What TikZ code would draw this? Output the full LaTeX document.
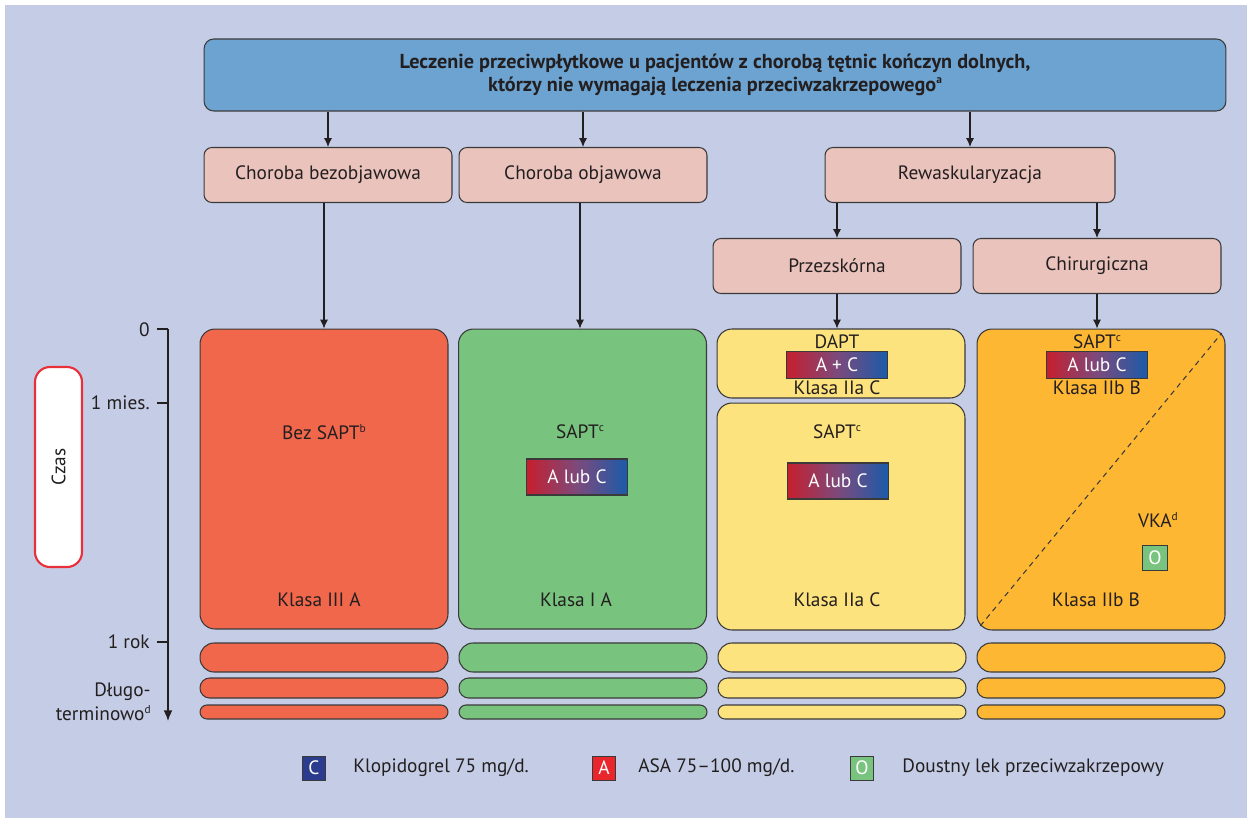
\documentclass[tikz,border=0pt]{standalone}
\usepackage{fontspec}
\setmainfont{PT Sans}
\usetikzlibrary{arrows.meta,calc}

\definecolor{bgpanel}{HTML}{C5CDE6}
\definecolor{titlefill}{HTML}{6CA3D1}
\definecolor{stepfill}{HTML}{EAC3BC}
\definecolor{redcol}{HTML}{F0674B}
\definecolor{greencol}{HTML}{78C47E}
\definecolor{yellowcol}{HTML}{FDE37D}
\definecolor{orangecol}{HTML}{FDB733}
\definecolor{boxline}{HTML}{3A3A3A}
\definecolor{txt}{HTML}{231F20}
\definecolor{gradred}{HTML}{C61F2E}
\definecolor{gradmid}{HTML}{7C4A7C}
\definecolor{gradblue}{HTML}{1B5BAA}
\definecolor{clopi}{HTML}{2B3C8E}
\definecolor{asacol}{HTML}{E8262C}
\definecolor{czasline}{HTML}{E8303A}

\newcommand{\supmark}[1]{\raisebox{0.75ex}{\fontsize{6.5}{7}\selectfont #1}}

\tikzset{
  txtfont/.style={font=\fontsize{11}{13.5}\selectfont, text=txt},
  stepbox/.style={draw=boxline, line width=0.6pt, fill=stepfill, rounded corners=4.5pt,
    minimum width=4.96cm, minimum height=1.1cm, inner sep=0pt, txtfont},
  mainbox/.style={draw=boxline, line width=0.6pt, rounded corners=8.5pt,
    minimum width=4.96cm, inner sep=0pt},
  barbox/.style={draw=boxline, line width=0.6pt, minimum width=4.96cm, inner sep=0pt},
  drugbox/.style={draw=boxline, line width=0.6pt, left color=gradred, right color=gradblue,
    middle color=gradmid, minimum width=2.02cm, inner sep=0pt,
    font=\fontsize{11}{13.5}\selectfont, text=white},
  legbox/.style={draw=boxline, line width=0.4pt, minimum width=0.46cm, minimum height=0.48cm,
    inner sep=0pt, font=\fontsize{11}{13.5}\selectfont, text=white},
  lbl/.style={inner sep=0pt, txtfont},
  arr/.style={-{Latex[length=5pt,width=4.5pt]}, line width=0.6pt, draw=txt},
}

\begin{document}
\begin{tikzpicture}[x=0.02cm, y=-0.02cm]
  \useasboundingbox (0,0) rectangle (1247,818);
  \fill[white] (0,0) rectangle (1247,818);
  \fill[bgpanel] (5,5) rectangle (1247,818);

  %% title
  \node[draw=boxline, line width=0.6pt, fill=titlefill, rounded corners=5.5pt,
    minimum width=20.44cm, minimum height=1.44cm, align=center,
    font=\bfseries\fontsize{11.5}{13}\selectfont, text=txt] (title) at (715,75)
    {Leczenie przeciwpłytkowe u pacjentów z chorobą tętnic kończyn dolnych,\\
     którzy nie wymagają leczenia przeciwzakrzepowego\supmark{a}};

  %% first and second level
  \node[stepbox] (asym) at (328,175) {Choroba bezobjawowa};
  \node[stepbox] (sym) at (583,175) {Choroba objawowa};
  \node[stepbox, minimum width=5.8cm] (revasc) at (970,175) {Rewaskularyzacja};
  \node[stepbox] (perc) at (837,266) {Przezskórna};
  \node[stepbox] (surg) at (1097,266) {Chirurgiczna};

  %% treatment boxes
  \node[mainbox, fill=redcol, minimum height=6cm] (noSapt) at (324,479) {};
  \node[mainbox, fill=greencol, minimum height=6cm] (saptA) at (582.5,479) {};
  \node[mainbox, fill=yellowcol, minimum height=1.38cm] (dapt) at (841,363.5) {};
  \node[mainbox, fill=yellowcol, minimum height=4.54cm] (saptP) at (841,516.5) {};
  \node[mainbox, fill=orangecol, minimum height=6.02cm] (saptS) at (1101,479.5) {};

  %% arrows
  \draw[arr] (title.south -| asym.north) -- (asym.north);
  \draw[arr] (title.south -| sym.north) -- (sym.north);
  \draw[arr] (title.south -| revasc.north) -- (revasc.north);
  \draw[arr] (revasc.south -| perc.north) -- (perc.north);
  \draw[arr] (revasc.south -| surg.north) -- (surg.north);
  \draw[arr] (asym.south -| noSapt.north) -- (noSapt.north);
  \draw[arr] (sym.south -| 580,0) -- (saptA.north -| 580,0);
  \draw[arr] (perc.south) -- (perc.south |- dapt.north);
  \draw[arr] (surg.south) -- (surg.south |- saptS.north);

  %% red column
  \node[lbl] (noSaptTop) at (324,432) {Bez SAPT\supmark{b}};
  \node[lbl] (noSaptCls) at (319,600) {Klasa III A};

  %% green column
  \node[lbl] (saptATop) at (580,432) {SAPT\supmark{c}};
  \node[drugbox, minimum height=0.72cm] (saptADrug) at (577,477) {A lub C};
  \node[lbl] (saptACls) at (576,600) {Klasa I A};

  %% yellow column
  \node[lbl] (daptTop) at (837,342) {DAPT};
  \node[drugbox, minimum height=0.55cm] (daptDrug) at (837,365) {A + C};
  \node[lbl] (daptCls) at (837,388) {Klasa IIa C};
  \node[lbl] (saptPTop) at (837,432) {SAPT\supmark{c}};
  \node[drugbox, minimum height=0.72cm] (saptPDrug) at (838,481) {A lub C};
  \node[lbl] (saptPCls) at (837,600) {Klasa IIa C};

  %% orange column
  \draw[boxline, line width=0.6pt, dash pattern=on 3pt off 2.5pt]
    ($(saptS.south west)!0.015!(saptS.north east)$) -- ($(saptS.south west)!0.985!(saptS.north east)$);
  \node[lbl] (saptSTop) at (1097,342) {SAPT\supmark{c}};
  \node[drugbox, minimum height=0.55cm] (saptSDrug) at (1097,365) {A lub C};
  \node[lbl] (saptSCls) at (1097,388) {Klasa IIb B};
  \node[lbl] (vka) at (1158,520) {VKA\supmark{d}};
  \node[legbox, fill=greencol, minimum width=0.5cm, minimum height=0.5cm] (vkaDrug) at (1155,558) {O};
  \node[lbl] (saptSCls2) at (1096,600) {Klasa IIb B};

  %% later periods
  \foreach \cx/\col in {324/redcol, 583/greencol, 842/yellowcol, 1101/orangecol}{
    \node[barbox, fill=\col, minimum height=0.58cm, rounded corners=8pt] (barA\cx) at (\cx,657.5) {};
    \node[barbox, fill=\col, minimum height=0.4cm, rounded corners=5.5pt] (barB\cx) at (\cx,688) {};
    \node[barbox, fill=\col, minimum height=0.28cm, rounded corners=4pt] (barC\cx) at (\cx,712) {};
  }

  %% time axis
  \draw[line width=0.8pt, txt, -{Latex[length=6pt,width=5pt]}] (168,329) -- (168,721);
  \foreach \ty in {329, 403, 642}
    \draw[line width=0.8pt, txt] (157,\ty) -- (168,\ty);
  \node[lbl, anchor=east] (tZero) at (150,330) {0};
  \node[lbl, anchor=east] (tMonth) at (150,403) {1 mies.};
  \node[lbl, anchor=east] (tYear) at (150,642) {1 rok};
  \node[lbl, anchor=east, align=right, font=\fontsize{11}{13.5}\selectfont] (tLong) at (151,702)
    {Długo-\\terminowo\supmark{d}};
  \node[draw=czasline, line width=1.2pt, fill=white, rounded corners=8.5pt, rotate=90,
    minimum width=4cm, minimum height=0.94cm, txtfont] (czas) at (58.5,467) {Czas};

  %% legend
  \node[legbox, fill=clopi] (legC) at (314,768) {C};
  \node[lbl, anchor=west] (legCtxt) at (353,768) {Klopidogrel 75 mg/d.};
  \node[legbox, fill=asacol] (legA) at (604,768) {A};
  \node[lbl, anchor=west] (legAtxt) at (638,768) {ASA 75–100 mg/d.};
  \node[legbox, fill=greencol] (legO) at (862,768) {O};
  \node[lbl, anchor=west] (legOtxt) at (902,768) {Doustny lek przeciwzakrzepowy};
\end{tikzpicture}
\end{document}
